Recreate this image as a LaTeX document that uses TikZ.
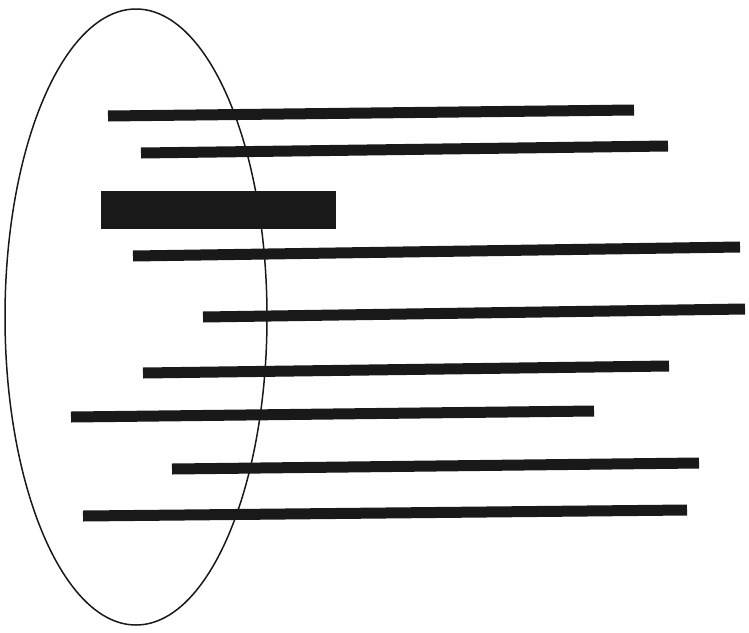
\documentclass[tikz,border=0pt]{standalone}
\usepackage{tikz}
\usetikzlibrary{calc}

\begin{document}
\begin{tikzpicture}[x=1pt,y=-1pt,
  bar/.style={line width=11pt,line cap=butt,draw=black!90},
  blk/.style={fill=black!90},
  rim/.style={draw=black!90,line width=1.5pt}]
\useasboundingbox (0,0) rectangle (749,632);
% enclosing ellipse
\draw[rim] (136,317) ellipse [x radius=131,y radius=308];
% wide block
\fill[blk] (101,191) rectangle (336,229);
% bars
\foreach \xa/\ya/\xb/\yb in {108/116/634/110, 141/153/668/146, 133/256/740/247,
  203/317/745/309, 143/373/669/366, 71/417/594/411, 172/469/699/463, 83/516/687/510}
  \draw[bar] (\xa,\ya) -- (\xb,\yb);
\end{tikzpicture}
\end{document}
